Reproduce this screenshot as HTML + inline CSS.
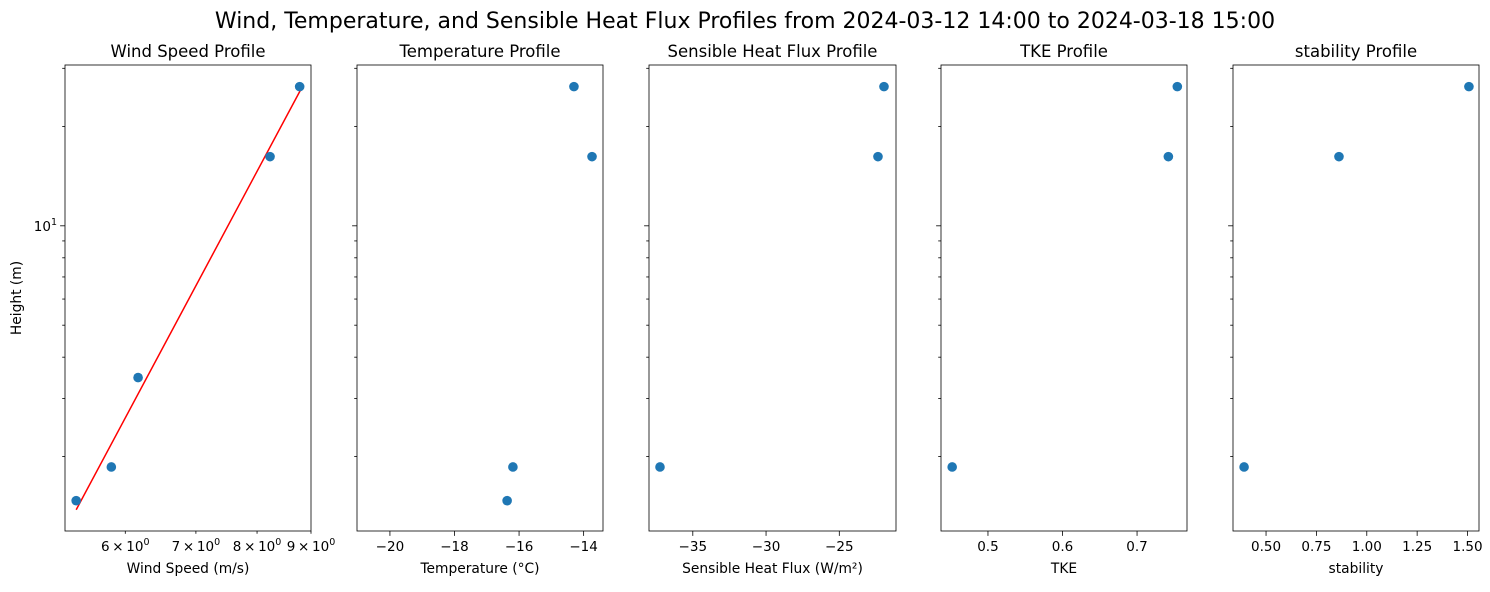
<!DOCTYPE html>
<html><head><meta charset="utf-8"><style>
body{margin:0;background:#fff;}
svg text{font-family:"DejaVu Sans","Liberation Sans",sans-serif;fill:#000;}
</style></head><body>
<svg id="fig" width="1490" height="587" xmlns="http://www.w3.org/2000/svg">
<text x="745" y="28" text-anchor="middle" font-size="22">Wind, Temperature, and Sensible Heat Flux Profiles from 2024-03-12 14:00 to 2024-03-18 15:00</text>
</svg>
<script>
const heights = [1.47, 1.86, 3.47, 16.2, 26.4];
const windSpeed = [5.39, 5.82, 6.17, 8.23, 8.78];
const temperature = [-16.37, -16.19, NaN, -13.74, -14.3];
const heatFlux = [NaN, -37.24, NaN, -22.36, -21.95];
const tke = [NaN, 0.452, NaN, 0.742, 0.754];
const stability = [NaN, 0.391, NaN, 0.862, 1.507];
const fitWs = [5.39, 8.82];
const fitH = [1.38, 26.2];
const wsTicks = [6, 7, 8, 9];
const wsTickLabels = ["6", "7", "8", "9"];
const tempTicks = [-20, -18, -16, -14];
const fluxTicks = [-35, -30, -25];
const tkeTicks = [0.5, 0.6, 0.7];
const tkeTickLabels = ["0.5", "0.6", "0.7"];
const stabTicks = [0.5, 0.75, 1.0, 1.25, 1.5];
const stabTickLabels = ["0.50", "0.75", "1.00", "1.25", "1.50"];

const NS = "http://www.w3.org/2000/svg";
const svg = document.getElementById('fig');
function mk(tag, attrs, parent) {
  const e = document.createElementNS(NS, tag);
  for (const k in attrs) e.setAttribute(k, attrs[k]);
  (parent || svg).appendChild(e);
  return e;
}
const TOP = 65, BOT = 531;
const yLo = Math.log10(1.19), yHi = Math.log10(30.7);
function yS(h) { return BOT - (Math.log10(h) - yLo) / (yHi - yLo) * (BOT - TOP); }

const panels = [
  {x0: 65, x1: 311, title: "Wind Speed Profile", xlabel: "Wind Speed (m/s)", vals: windSpeed, min: 5.26, max: 9.0, log: true, ticks: wsTicks, labels: wsTickLabels, name: "wind-speed"},
  {x0: 357, x1: 603, title: "Temperature Profile", xlabel: "Temperature (°C)", vals: temperature, min: -21.02, max: -13.4, ticks: tempTicks, labels: tempTicks.map(v => "\u2212" + Math.abs(v)), name: "temperature"},
  {x0: 649, x1: 896, title: "Sensible Heat Flux Profile", xlabel: "Sensible Heat Flux (W/m²)", vals: heatFlux, min: -37.99, max: -21.13, ticks: fluxTicks, labels: fluxTicks.map(v => "\u2212" + Math.abs(v)), name: "heat-flux"},
  {x0: 941, x1: 1187, title: "TKE Profile", xlabel: "TKE", vals: tke, min: 0.437, max: 0.767, ticks: tkeTicks, labels: tkeTickLabels, name: "tke"},
  {x0: 1233, x1: 1479, title: "stability Profile", xlabel: "stability", vals: stability, min: 0.336, max: 1.557, ticks: stabTicks, labels: stabTickLabels, name: "stability"}
];

panels.forEach((p, pi) => {
  const xS = p.log
    ? v => p.x0 + (Math.log10(v) - Math.log10(p.min)) / (Math.log10(p.max) - Math.log10(p.min)) * (p.x1 - p.x0)
    : v => p.x0 + (v - p.min) / (p.max - p.min) * (p.x1 - p.x0);
  const g = mk('g', {});
  
  
  for (let d = 1; d <= 30; d += (d < 10 ? 1 : 10)) {
    if (d < 1.19 || d > 30.7) continue;
    const y = yS(d);
    const major = d === 10;
    mk('line', {x1: p.x0, x2: p.x0 - (major ? 4.9 : 2.8), y1: y, y2: y, stroke: '#000', 'stroke-width': 0.8}, g);
    if (major && pi === 0) {
      const t = mk('text', {x: p.x0 - 8, y: y + 5, 'text-anchor': 'end', 'font-size': 13.5}, g);
      
      
      t.innerHTML = '10<tspan font-size="9.5" dy="-6">1</tspan>';
    }
  }
  p.ticks.forEach((v, i) => {
    const x = xS(v);
    mk('line', {x1: x, x2: x, y1: BOT, y2: BOT + (p.log ? 2.8 : 4.9), stroke: '#000', 'stroke-width': 0.8}, g);
    const t = mk('text', {x: x, y: BOT + 20, 'text-anchor': 'middle', 'font-size': 13.5}, g);
    
    
    if (p.log) t.innerHTML = p.labels[i] + '\u2009\u00d7\u200910<tspan font-size="9.5" dy="-6">0</tspan>';
    else t.textContent = p.labels[i];
  });
  if (p.log) {
    const l = mk('line', {x1: xS(fitWs[0]), y1: yS(fitH[0]), x2: xS(fitWs[1]), y2: yS(fitH[1]), stroke: '#ff0000', 'stroke-width': 1.5}, g);
    
    
  }
  p.vals.forEach((v, i) => {
    if (isNaN(v)) return;
    const c = mk('circle', {cx: xS(v), cy: yS(heights[i]), r: 4.8, fill: '#1f77b4'}, g);
    
    
  });
  const fr = mk('rect', {x: p.x0, y: TOP, width: p.x1 - p.x0, height: BOT - TOP, fill: 'none', stroke: '#000', 'stroke-width': 0.8}, g);
  
  
  const tt = mk('text', {x: (p.x0 + p.x1) / 2, y: 57, 'text-anchor': 'middle', 'font-size': 16.5}, g);
  
  
  tt.textContent = p.title;
  const xl = mk('text', {x: (p.x0 + p.x1) / 2, y: 573, 'text-anchor': 'middle', 'font-size': 13.8}, g);
  
  
  xl.textContent = p.xlabel;
});
const yl = mk('text', {x: 0, y: 0, 'text-anchor': 'middle', 'font-size': 13.8, transform: 'translate(21,298) rotate(-90)'});


yl.textContent = 'Height (m)';
</script>
</body></html>
